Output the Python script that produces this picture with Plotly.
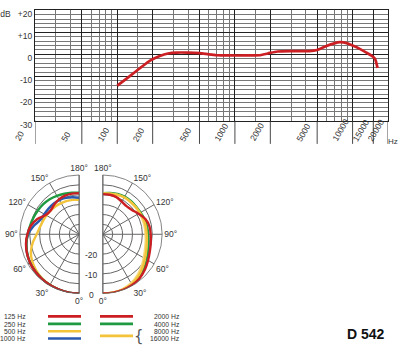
import plotly.graph_objects as go
import math

W, H = 400, 357
def X(px): return px / W
def Y(py): return 1 - py / H

# ---------------- data ----------------
freq_hz = [100, 120, 140, 160, 190, 230, 270, 320, 400, 500, 600, 700, 900, 1200,
           1600, 1900, 2300, 3000, 4300, 5000, 6000, 7000, 7800, 8900, 10000, 11500,
           13000, 14500, 15500, 16300]
resp_db = [-14.2, -11.0, -8.2, -5.8, -2.8, -0.7, 0.4, 0.8, 0.8, 0.6, 0.0, -0.4, -0.5, -0.5,
           -0.4, 0.4, 1.3, 1.5, 1.5, 2.0, 3.8, 5.0, 5.5, 5.1, 4.0, 2.5,
           0.9, -0.6, -2.0, -6.2]

x_major = [20, 50, 100, 200, 500, 1000, 2000, 5000, 10000, 15000, 20000]
x_minor = [30, 40, 60, 70, 80, 90, 150, 300, 400, 600, 700, 800, 900, 1500, 3000, 4000,
           6000, 7000, 8000, 9000]
y_major = [-30, -20, -10, 0, 10, 20]
y_labels = ['-30', '-20', '-10', '0', '+10', 'dB\u00a0\u00a0\u00a0+20']

angles = [0, 10, 20, 30, 40, 50, 60, 70, 80, 90, 100, 110, 120, 130, 140, 150, 160, 170, 180]
p125 = [0, 0, -0.2, -0.4, -0.6, -0.9, -1.3, -1.9, -2.7, -3.8, -5.2, -7.5, -10.5, -11.2, -10.4, -9.6, -9.2, -9.1, -9.2]
p250 = [0, 0, -0.2, -0.4, -0.6, -0.9, -1.3, -2.0, -2.9, -3.9, -4.8, -5.4, -5.9, -6.3, -6.8, -7.5, -8.2, -8.7, -8.9]
p500 = [0, 0, -0.2, -0.5, -0.9, -1.6, -2.6, -4.0, -6.2, -8.5, -9.8, -10.5, -10.9, -11.2, -11.5, -11.8, -12.0, -12.3, -12.5]
p1000 = [0, 0, -0.2, -0.4, -0.6, -0.9, -1.3, -2.0, -2.9, -4.2, -6.5, -9.0, -9.6, -9.8, -9.8, -10.0, -10.4, -11.0, -11.5]
p2000 = [0, 0, -0.1, -0.4, -1.0, -2.2, -3.6, -4.7, -5.4, -5.8, -6.1, -7.2, -9.2, -10.8, -11.4, -10.9, -10.0, -9.7, -9.7]
p4000 = [0, 0, -0.2, -0.7, -1.6, -2.9, -4.3, -5.6, -6.5, -7.0, -7.3, -7.6, -8.0, -8.1, -8.0, -8.0, -8.3, -8.8, -9.2]
p8000 = [0, 0, -0.2, -0.9, -2.2, -3.8, -5.4, -6.6, -7.4, -7.8, -7.9, -8.0, -8.3, -8.4, -8.4, -8.4, -8.7, -9.1, -9.4]
p16000 = [0, -0.1, -0.5, -1.4, -2.8, -4.5, -6.1, -7.3, -8.0, -8.4, -8.5, -8.6, -8.6, -8.6, -8.5, -8.5, -8.8, -9.2, -9.5]

angle_ticks = [0, 30, 60, 90, 120, 150, 180]
radial_labels = [-20, -10, 0]
legend_left = ['125 Hz', '250 Hz', '500 Hz', '1000 Hz']
legend_right = ['2000 Hz', '4000 Hz', '8000 Hz', '16000 Hz']

RED, GREEN, YELLOW, LYELLOW, BLUE = '#cc1f24', '#1f9a40', '#f3c33a', '#f6d97a', '#2a5aae'
FONT = 'Liberation Sans, Arial, sans-serif'
TXT = '#333333'

fig = go.Figure()

# ---------------- frequency response ----------------
fig.add_trace(go.Scatter(x=freq_hz, y=resp_db, mode='lines', line=dict(color=RED, width=2.7, shape='spline', smoothing=0.6),
                         xaxis='x', yaxis='y', showlegend=False, hoverinfo='skip'))

ytop, ybot = 9.5, 123
xl, xr = 35, 388
fig.update_layout(
    xaxis=dict(type='log', range=[math.log10(20), math.log10(20000)], domain=[X(xl), X(xr)],
               tickvals=x_major, showticklabels=False,
               showgrid=True, gridcolor='#222', gridwidth=1.1,
               minor=dict(tickvals=x_minor, showgrid=True, gridcolor='#777', gridwidth=0.6, ticks=''),
               ticks='', showline=True, linecolor='#222', linewidth=1.1, mirror=True, zeroline=False),
    yaxis=dict(range=[-30, 20], domain=[Y(ybot), Y(ytop)], tickvals=y_major, ticktext=y_labels,
               showgrid=True, gridcolor='#222', gridwidth=1.1,
               minor=dict(dtick=2, showgrid=True, gridcolor='#777', gridwidth=0.6, ticks=''),
               ticks='', showline=True, linecolor='#222', linewidth=1.1, mirror=True, zeroline=False,
               tickfont=dict(family=FONT, size=8.5, color=TXT), ticklabelshift=4),
)

shapes = []
annots = []
for f in x_major:
    shapes.append(dict(type='line', xref='x', yref='paper', xsizemode='pixel', xanchor=f, x0=0, x1=-12,
                       y0=Y(ybot), y1=Y(ybot + 24), line=dict(color='#333', width=0.9)))
    annots.append(dict(text=str(f), xref='x', yref='paper', x=math.log10(f), y=Y(ybot + 26), xshift=-25,
                       xanchor='left', yanchor='bottom', textangle=-60, showarrow=False,
                       font=dict(family=FONT, size=8.5, color=TXT)))

# ---------------- polar plots ----------------
R = 61
cy = 240
CXL, CXR = 80, 102
def polar_cfg(cx, left):
    if left:
        dom_x = [X(cx - R), X(cx)]
        sector = [90, 270]
        tv = [(360 - a) % 360 if a else 360 for a in angle_ticks]
    else:
        dom_x = [X(cx), X(cx + R)]
        sector = [-90, 90]
        tv = angle_ticks
    return dict(
        domain=dict(x=dom_x, y=[Y(cy + R), Y(cy - R)]),
        sector=sector, bgcolor='rgba(0,0,0,0)',
        angularaxis=dict(rotation=-90, direction='counterclockwise', tickvals=tv,
                         ticktext=[f'{a}°' for a in angle_ticks],
                         showline=True, linecolor='#666', linewidth=0.8,
                         gridcolor='#666', gridwidth=0.6, ticks='',
                         tickfont=dict(family=FONT, size=8.5, color=TXT)),
        radialaxis=dict(range=[-30, 0], tickvals=[-30, -25, -20, -15, -10, -5, 0],
                        showline=False, showticklabels=False,
                        gridcolor='#666', gridwidth=0.6, ticks=''),
    )

fig.update_layout(polar=polar_cfg(CXL, True), polar2=polar_cfg(CXR, False))

theta_left = [360 - a for a in angles]
for vals, col, sp in [(p500, YELLOW, 'polar'), (p1000, BLUE, 'polar'), (p250, GREEN, 'polar'), (p125, RED, 'polar'),
                      (p4000, GREEN, 'polar2'), (p16000, LYELLOW, 'polar2'), (p8000, YELLOW, 'polar2'), (p2000, RED, 'polar2')]:
    th = theta_left if sp == 'polar' else angles
    fig.add_trace(go.Scatterpolar(r=vals, theta=th, mode='lines', subplot=sp,
                                  line=dict(color=col, width=2.4, shape='spline', smoothing=0.8),
                                  showlegend=False, hoverinfo='skip'))

for v in radial_labels:
    annots.append(dict(text=str(v), x=X(CXL + 11), y=Y(cy + (v + 30) / 30 * R + 1), xref='paper', yref='paper',
                       xanchor='center', yanchor='middle', showarrow=False,
                       font=dict(family=FONT, size=8.5, color=TXT)))

# ---------------- legend (drawn) ----------------
left_cols = [RED, GREEN, YELLOW, BLUE]
row_y = [325, 332.7, 340.2, 347.7]
for i, (t, c) in enumerate(zip(legend_left, left_cols)):
    annots.append(dict(text=t, x=X(28), y=Y(row_y[i]), xref='paper', yref='paper', xanchor='right', yanchor='middle',
                       showarrow=False, font=dict(family=FONT, size=6.8, color=TXT)))
    shapes.append(dict(type='line', xref='paper', yref='paper', x0=X(48), x1=X(81), y0=Y(row_y[i] - 0.5), y1=Y(row_y[i] - 0.5),
                       line=dict(color=c, width=2.6)))
for i, t in enumerate(legend_right):
    annots.append(dict(text=t, x=X(182), y=Y(row_y[i]), xref='paper', yref='paper', xanchor='right', yanchor='middle',
                       showarrow=False, font=dict(family=FONT, size=6.8, color=TXT)))
for yy, c in [(324.5, RED), (332.2, GREEN), (344.5, YELLOW)]:
    shapes.append(dict(type='line', xref='paper', yref='paper', x0=X(100), x1=X(133), y0=Y(yy), y1=Y(yy),
                       line=dict(color=c, width=2.6)))
annots.append(dict(text='{', x=X(139), y=Y(344.5), xref='paper', yref='paper', xanchor='center', yanchor='middle',
                   showarrow=False, font=dict(family='DejaVu Sans', size=15, color='#555')))
annots.append(dict(text='<b>D 542</b>', x=X(366), y=Y(343), xref='paper', yref='paper', xanchor='center', yanchor='middle',
                   showarrow=False, font=dict(family=FONT, size=14, color='#111')))
annots.append(dict(text='Hz', x=X(393), y=Y(145), xref='paper', yref='paper', xanchor='center', yanchor='middle',
                   showarrow=False, font=dict(family=FONT, size=8, color=TXT)))

fig.update_layout(width=W, height=H, margin=dict(l=0, r=0, t=0, b=0), paper_bgcolor='white', plot_bgcolor='white',
                  showlegend=False, shapes=shapes, annotations=annots)

fig.write_html('out.html')
